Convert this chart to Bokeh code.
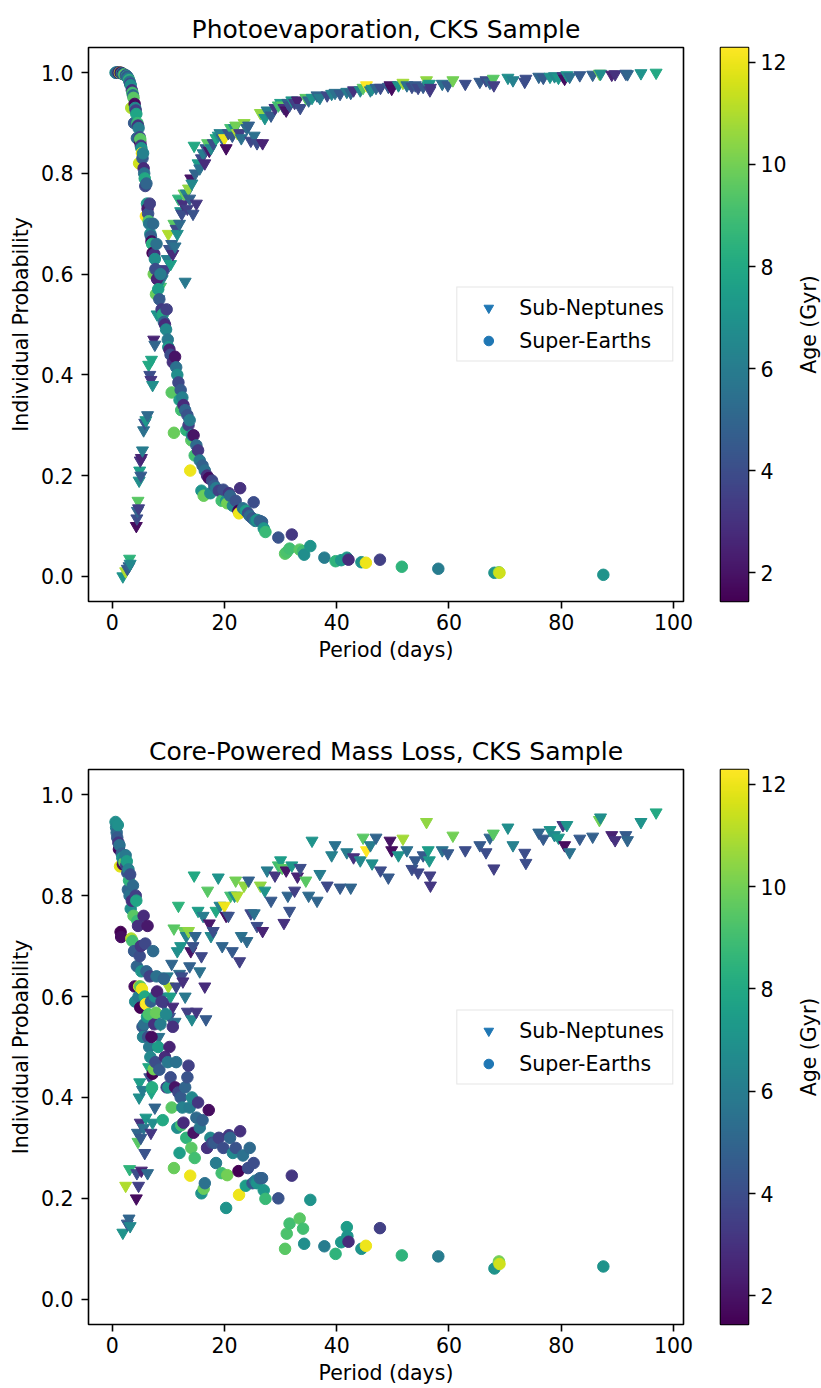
import math
import numpy as np
from bokeh.plotting import figure
from bokeh.models import (ColumnDataSource, LinearColorMapper, Range1d, Legend, LegendItem,
                          FixedTicker, PrintfTickFormatter)
from bokeh.core.properties import value
from bokeh.layouts import column, row
from bokeh.palettes import Viridis256
from bokeh.embed import file_html
from bokeh.resources import INLINE

FONT = "DejaVu Sans"

# ---------------- Super-Earths (period, age, P(photoevap), P(core-powered)) -------------
se_period = ([0.6, 0.7, 0.8, 0.9, 1.0, 1.1, 1.2, 1.3, 1.4, 1.5, 1.6, 1.7, 1.8, 1.9, 2.0, 2.2, 2.4, 2.5, 2.6, 2.7, 2.8, 2.9]
             + [3.0, 3.1, 3.2, 3.3, 3.4, 3.5, 3.6, 3.7, 3.8, 3.9, 4.0, 4.1, 4.2, 4.3, 4.4, 4.5, 4.6, 4.7, 4.8, 4.9, 5.0, 5.0]
             + [5.1, 5.2, 5.3, 5.4, 5.5, 5.6, 5.7, 5.8, 5.9, 6.0, 6.1, 6.2, 6.3, 6.4, 6.5, 6.6, 6.7, 6.8, 6.9, 7.0,
                7.1, 7.2, 7.3, 7.4, 7.5, 7.6, 7.7, 7.8, 7.9, 8.0, 8.2, 8.4, 8.6, 8.8, 9.0, 9.2, 9.4, 9.6, 9.7, 9.9]
             + [10.0, 10.2, 10.4, 10.6, 10.8, 11.0, 11.2, 11.4, 11.6, 11.8, 12.0, 12.2, 12.3, 12.5, 12.7, 13.0, 13.2, 13.4, 13.6, 13.8,
                13.9, 14.1, 14.2, 14.5, 14.7, 15.0, 15.3, 15.6, 15.9, 16.1, 16.3, 16.5, 16.9, 17.2, 17.5, 17.8, 18.2, 18.5, 19.0, 19.5, 19.8]
             + [20.3, 20.5, 20.8, 21.0, 21.5, 22.0, 22.5, 22.6, 22.8, 23.3, 23.8, 24.2, 24.5, 25.0, 25.2, 25.5, 25.8, 26.3, 26.7, 27.0, 27.3, 29.6]
             + [30.8, 31.1, 31.6, 32.0, 33.4, 34.0, 34.2, 35.3, 37.8, 39.8, 40.8, 41.8, 41.9, 42.1, 44.4, 45.2, 47.7, 51.6, 58.1, 68.1, 68.9, 69.0, 87.5])
se_age = ([6.8, 6.0, 5.2, 4.5, 6.9, 3.2, 1.6, 5.5, 11.8, 1.44, 1.8, 4.8, 7.2, 1.7, 6.5, 9.8, 5.8, 3.5, 7.5, 4.2, 5.0, 6.2]
          + [8.5, 5.5, 4.0, 6.8, 11.0, 3.0, 9.0, 5.2, 9.5, 4.5, 1.7, 6.5, 3.5, 7.8, 5.0, 8.8, 3.0, 6.0, 11.5, 4.0, 1.5, 9.5]
          + [3.2, 7.0, 12.0, 4.5, 6.2, 2.8, 5.5, 8.0, 3.8, 12.29, 5.0, 7.2, 2.2, 4.2, 9.2, 5.8, 3.5, 6.5, 4.8, 1.8,
             8.2, 1.44, 5.2, 10.0, 3.0, 6.8, 4.0, 9.8, 5.5, 2.5, 7.5, 4.5, 6.0, 3.3, 8.0, 5.0, 2.8, 6.5, 3.5, 5.8]
          + [7.0, 2.5, 4.0, 9.5, 3.0, 9.8, 2.0, 5.5, 6.8, 3.8, 7.5, 4.5, 9.0, 6.2, 2.8, 5.0, 8.5, 4.2, 3.5, 6.0,
             12.0, 9.5, 6.5, 2.0, 9.0, 5.2, 3.2, 5.8, 7.0, 4.8, 9.8, 5.5, 3.0, 1.8, 6.5, 3.8, 4.5, 6.0, 3.5, 9.0, 4.0]
          + [7.0, 10.0, 3.2, 5.0, 6.5, 4.2, 1.44, 12.0, 3.0, 5.5, 7.5, 4.0, 5.2, 4.5, 4.0, 6.0, 7.0, 5.0, 4.8, 7.2, 8.8, 4.2]
          + [9.5, 9.2, 9.0, 3.2, 9.5, 9.0, 6.8, 7.0, 6.0, 8.5, 7.2, 7.5, 7.0, 2.8, 7.0, 12.0, 3.5, 8.5, 6.0, 7.0, 10.0, 11.5, 7.0])
se_prob_pe = ([1.000] * 10 + [0.999, 0.999, 0.998, 0.998, 0.997, 0.996, 0.995, 0.994, 0.993, 0.992, 0.990, 0.988]
              + [0.985, 0.982, 0.978, 0.975, 0.930, 0.965, 0.960, 0.955, 0.950, 0.900, 0.938, 0.930, 0.925, 0.918, 0.870, 0.900, 0.895, 0.890, 0.820, 0.872, 0.862, 0.868]
              + [0.855, 0.850, 0.840, 0.830, 0.840, 0.810, 0.800, 0.790, 0.775, 0.715, 0.780, 0.740, 0.730, 0.720, 0.705, 0.700, 0.740, 0.680, 0.675, 0.665,
                 0.660, 0.642, 0.700, 0.600, 0.640, 0.630, 0.610, 0.560, 0.660, 0.590, 0.570, 0.550, 0.600, 0.530, 0.520, 0.505, 0.500, 0.490, 0.530, 0.470]
              + [0.455, 0.450, 0.440, 0.365, 0.425, 0.285, 0.436, 0.415, 0.400, 0.385, 0.350, 0.370, 0.330, 0.355, 0.340, 0.330, 0.290, 0.320, 0.300, 0.310,
                 0.210, 0.270, 0.280, 0.280, 0.240, 0.260, 0.250, 0.230, 0.170, 0.220, 0.160, 0.210, 0.200, 0.195, 0.165, 0.190, 0.180, 0.175, 0.170, 0.150, 0.172]
              + [0.150, 0.145, 0.165, 0.160, 0.140, 0.150, 0.130, 0.125, 0.175, 0.135, 0.130, 0.125, 0.120, 0.115, 0.147, 0.110, 0.112, 0.110, 0.108, 0.095, 0.088, 0.077]
              + [0.045, 0.048, 0.055, 0.083, 0.053, 0.050, 0.043, 0.060, 0.037, 0.030, 0.032, 0.037, 0.035, 0.033, 0.028, 0.027, 0.033, 0.019, 0.015, 0.007, 0.008, 0.007, 0.003])
se_prob_cp = ([0.946, 0.935, 0.925, 0.915, 0.940, 0.905, 0.892, 0.900, 0.858, 0.728, 0.718, 0.883, 0.875, 0.862, 0.870, 0.866, 0.880, 0.860, 0.868, 0.845, 0.812, 0.852]
              + [0.830, 0.800, 0.842, 0.774, 0.715, 0.790, 0.710, 0.820, 0.760, 0.690, 0.620, 0.590, 0.800, 0.790, 0.660, 0.750, 0.740, 0.600, 0.620, 0.680, 0.578, 0.620]
              + [0.700, 0.650, 0.615, 0.540, 0.520, 0.760, 0.545, 0.600, 0.705, 0.585, 0.650, 0.560, 0.740, 0.520, 0.565, 0.500, 0.640, 0.480, 0.590, 0.520,
                 0.420, 0.447, 0.690, 0.456, 0.545, 0.600, 0.470, 0.568, 0.640, 0.610, 0.500, 0.455, 0.545, 0.590, 0.355, 0.635, 0.480, 0.565, 0.420, 0.470]
              + [0.420, 0.500, 0.440, 0.380, 0.540, 0.260, 0.420, 0.470, 0.340, 0.410, 0.290, 0.400, 0.345, 0.380, 0.350, 0.420, 0.320, 0.440, 0.463, 0.380,
                 0.245, 0.300, 0.400, 0.330, 0.280, 0.360, 0.390, 0.340, 0.210, 0.355, 0.219, 0.230, 0.300, 0.375, 0.320, 0.310, 0.310, 0.270, 0.320, 0.250, 0.300]
              + [0.181, 0.246, 0.325, 0.320, 0.290, 0.300, 0.254, 0.207, 0.333, 0.285, 0.225, 0.260, 0.300, 0.230, 0.270, 0.235, 0.230, 0.240, 0.240, 0.216, 0.199, 0.200]
              + [0.100, 0.130, 0.150, 0.245, 0.160, 0.140, 0.110, 0.197, 0.105, 0.090, 0.113, 0.143, 0.125, 0.114, 0.100, 0.106, 0.141, 0.087, 0.085, 0.061, 0.075, 0.070, 0.065])

# ---------------- Sub-Neptunes -------------
sn_period = ([1.9, 2.4, 2.7, 3.0, 3.1, 3.2, 4.3, 4.4, 4.5, 4.6, 4.7, 4.8, 4.9, 5.0, 5.1, 5.2, 5.4, 5.6, 5.8, 6.0, 6.3, 6.5, 6.7, 6.9, 7.0, 7.2, 7.4, 7.6]
             + [8.0, 8.3, 8.6, 8.9, 9.2, 9.5, 9.8, 10.0, 10.2, 10.4, 10.6, 10.8, 11.0, 11.2, 11.4, 11.6, 11.8, 12.0, 12.2, 12.4,
                12.6, 12.8, 13.0, 13.2, 13.4, 13.6, 13.8, 14.0, 14.2, 14.4, 14.6, 14.8, 15.0]
             + [15.3, 15.6, 15.9, 16.2, 16.5, 16.7, 17.0, 17.3, 17.6, 18.0, 18.5, 18.9, 19.2, 19.6, 20.0, 20.3, 20.7, 21.1, 21.4, 21.8,
                22.0, 22.3, 22.7, 23.0, 23.5, 24.0, 24.3, 24.7, 25.3, 25.8, 26.4, 26.8, 27.2, 27.6, 28.3, 29.0, 29.6]
             + [30.0, 30.3, 30.6, 31.0, 31.3, 31.6, 32.0, 32.5, 33.0, 33.5, 34.5, 35.0, 35.6, 36.5, 37.0, 38.3, 39.1, 39.7, 40.6, 41.8,
                42.5, 43.0, 44.2, 44.7, 45.3, 46.0, 46.3, 47.0, 47.8, 49.2, 49.5, 49.8]
             + [51.0, 51.8, 52.5, 53.4, 54.0, 54.5, 55.4, 56.0, 56.3, 56.5, 56.6, 56.7, 58.8, 59.8, 60.7, 62.9, 65.5, 66.6, 67.3, 67.9,
                68.0, 70.5, 71.4, 73.5, 73.7, 76.0, 76.8, 78.0, 78.8, 79.5, 80.3, 80.6, 81.0, 81.5, 83.3, 85.6, 86.8, 87.0, 89.0, 89.6,
                91.5, 91.8, 94.2, 96.9])
sn_age = ([7.0, 11.0, 4.5, 5.0, 8.5, 6.5, 1.8, 4.0, 5.0, 9.5, 3.5, 6.8, 7.5, 3.0, 4.5, 2.5, 6.0, 5.5, 4.2, 7.2, 5.2, 8.0, 4.0, 3.2, 7.8, 6.8, 2.5, 5.0]
          + [7.0, 5.5, 9.0, 6.5, 4.5, 3.5, 6.0, 11.0, 4.2, 7.5, 5.0, 2.8, 9.5, 5.5, 3.8, 6.8, 8.5, 5.2, 7.0, 4.0,
             3.0, 9.8, 5.8, 6.2, 3.5, 10.5, 4.8, 2.0, 6.5, 4.2, 8.0, 5.0, 3.2]
          + [7.5, 5.5, 3.8, 6.0, 2.8, 4.5, 9.5, 2.2, 6.5, 4.0, 8.0, 7.0, 6.2, 5.0, 12.0, 1.8, 4.2, 9.0, 4.5, 6.8,
             10.0, 11.0, 3.5, 5.5, 10.5, 5.2, 4.8, 3.8, 5.5, 4.0, 10.5, 2.5, 7.0, 6.0, 4.5, 3.2, 9.0]
          + [7.5, 9.5, 3.0, 2.0, 5.0, 4.2, 7.2, 3.5, 2.5, 4.0, 9.5, 5.2, 7.0, 5.0, 6.0, 3.8, 6.2, 5.5, 4.5, 6.0,
             5.0, 3.0, 6.5, 9.5, 12.29, 6.0, 6.8, 5.0, 4.0, 4.5, 2.0, 1.8]
          + [7.0, 10.8, 5.5, 4.0, 4.5, 3.8, 4.5, 10.5, 7.5, 7.2, 3.5, 3.2, 5.5, 4.5, 10.0, 4.0, 4.5, 4.0, 5.0, 9.5,
             3.5, 6.8, 6.2, 4.0, 4.0, 5.0, 4.5, 7.0, 6.5, 7.2, 3.2, 1.8, 7.0, 5.5, 4.5, 4.8, 10.0, 6.8, 2.5, 3.0,
             4.5, 5.0, 7.0, 8.0])
sn_prob_pe = ([0.000, 0.010, 0.015, 0.020, 0.035, 0.025, 0.100, 0.115, 0.130, 0.150, 0.135, 0.190, 0.210, 0.230, 0.200, 0.235, 0.250, 0.290, 0.305, 0.310,
               0.320, 0.420, 0.400, 0.390, 0.430, 0.380, 0.470, 0.460]
              + [0.520, 0.550, 0.575, 0.590, 0.600, 0.610, 0.630, 0.680, 0.650, 0.620, 0.660, 0.640, 0.700, 0.655, 0.690, 0.680, 0.750, 0.700, 0.725, 0.720,
                 0.740, 0.760, 0.585, 0.760, 0.730, 0.770, 0.750, 0.790, 0.780, 0.720, 0.855, 0.800, 0.740]
              + [0.820, 0.810, 0.830, 0.840, 0.820, 0.850, 0.860, 0.845, 0.850, 0.860, 0.870, 0.875, 0.880, 0.870, 0.870, 0.850, 0.880, 0.890, 0.875, 0.890,
                 0.895, 0.880, 0.880, 0.870, 0.900, 0.890, 0.895, 0.865, 0.875, 0.860, 0.920, 0.860, 0.910, 0.925, 0.915, 0.930, 0.935]
              + [0.940, 0.935, 0.930, 0.925, 0.940, 0.935, 0.945, 0.940, 0.945, 0.930, 0.950, 0.945, 0.950, 0.955, 0.950, 0.955, 0.958, 0.960, 0.958, 0.962,
                 0.960, 0.965, 0.965, 0.970, 0.975, 0.965, 0.968, 0.970, 0.970, 0.972, 0.975, 0.968]
              + [0.975, 0.980, 0.975, 0.972, 0.975, 0.970, 0.972, 0.985, 0.975, 0.978, 0.965, 0.970, 0.978, 0.975, 0.985, 0.978, 0.982, 0.985, 0.980, 0.988,
                 0.975, 0.990, 0.985, 0.982, 0.988, 0.992, 0.990, 0.992, 0.993, 0.990, 0.993, 0.988, 0.995, 0.992, 0.995, 0.996, 0.998, 0.998, 0.996, 0.997,
                 0.998, 0.997, 0.999, 1.000])
sn_prob_cp = ([0.132, 0.225, 0.150, 0.160, 0.258, 0.145, 0.200, 0.250, 0.330, 0.312, 0.225, 0.400, 0.430, 0.350, 0.320, 0.255, 0.415, 0.340, 0.290, 0.360,
               0.250, 0.460, 0.440, 0.330, 0.410, 0.350, 0.470, 0.380]
              + [0.560, 0.520, 0.545, 0.600, 0.585, 0.590, 0.640, 0.620, 0.560, 0.600, 0.665, 0.580, 0.735, 0.550, 0.620, 0.690, 0.780, 0.645, 0.700, 0.640,
                 0.630, 0.730, 0.600, 0.720, 0.570, 0.730, 0.660, 0.690, 0.555, 0.700, 0.840, 0.720, 0.570]
              + [0.770, 0.650, 0.680, 0.760, 0.620, 0.555, 0.810, 0.745, 0.720, 0.730, 0.770, 0.836, 0.780, 0.700, 0.780, 0.760, 0.760, 0.800, 0.690, 0.800,
                 0.830, 0.800, 0.670, 0.720, 0.820, 0.710, 0.830, 0.765, 0.765, 0.740, 0.820, 0.730, 0.810, 0.850, 0.790, 0.840, 0.860]
              + [0.870, 0.855, 0.746, 0.850, 0.800, 0.770, 0.860, 0.810, 0.838, 0.855, 0.830, 0.800, 0.909, 0.790, 0.843, 0.820, 0.880, 0.900, 0.816, 0.886,
                 0.816, 0.876, 0.870, 0.915, 0.890, 0.900, 0.864, 0.915, 0.850, 0.836, 0.909, 0.890]
              + [0.880, 0.913, 0.890, 0.853, 0.870, 0.846, 0.880, 0.946, 0.890, 0.870, 0.840, 0.820, 0.890, 0.884, 0.919, 0.890, 0.900, 0.886, 0.915, 0.923,
                 0.854, 0.935, 0.900, 0.885, 0.865, 0.925, 0.913, 0.930, 0.920, 0.915, 0.940, 0.900, 0.940, 0.886, 0.913, 0.917, 0.950, 0.955, 0.920, 0.910,
                 0.920, 0.910, 0.946, 0.965])

titles = ["Photoevaporation, CKS Sample", "Core-Powered Mass Loss, CKS Sample"]
x_ticks = [0, 20, 40, 60, 80, 100]
y_ticks = [0.0, 0.2, 0.4, 0.6, 0.8, 1.0]
age_ticks = [2, 4, 6, 8, 10, 12]
legend_labels = ["Sub-Neptunes", "Super-Earths"]
cbar_label = "Age (Gyr)"

assert len(se_period) == len(se_age) == len(se_prob_pe) == len(se_prob_cp)
assert len(sn_period) == len(sn_age) == len(sn_prob_pe) == len(sn_prob_cp)

age_lo = min(se_age + sn_age)
age_hi = max(se_age + sn_age)
mapper = LinearColorMapper(palette=Viridis256, low=age_lo, high=age_hi)
cmap = {"field": "age", "transform": mapper}

TICK_FS = "20.5px"


def style_axis(ax):
    ax.axis_line_color = None
    ax.major_tick_out = 7
    ax.major_tick_in = 0
    ax.major_tick_line_width = 1.6
    ax.major_tick_line_color = "black"
    ax.minor_tick_line_color = None
    ax.major_label_text_font = FONT
    ax.major_label_text_font_size = TICK_FS
    ax.major_label_text_color = "black"
    ax.axis_label_text_font = FONT
    ax.axis_label_text_font_size = TICK_FS
    ax.axis_label_text_font_style = "normal"
    ax.axis_label_text_color = "black"


def make_panel(title, sn_prob, se_prob, frame_h, border_bottom):
    p = figure(frame_width=595, frame_height=frame_h,
               min_border_left=88, min_border_right=17, min_border_top=47, min_border_bottom=border_bottom,
               x_range=Range1d(-4.22, 101.78), y_range=Range1d(-0.05, 1.05),
               output_backend="svg", toolbar_location=None, title=title)
    p.title.text_font = FONT
    p.title.text_font_size = "25px"
    p.title.text_font_style = "normal"
    p.title.text_color = "black"
    p.title.align = "center"
    p.title.standoff = 8
    p.xgrid.visible = False
    p.ygrid.visible = False
    p.outline_line_color = "black"
    p.outline_line_width = 1.6
    p.outline_line_alpha = 1.0
    p.xaxis.ticker = FixedTicker(ticks=x_ticks)
    p.yaxis.ticker = FixedTicker(ticks=y_ticks)
    p.xaxis.formatter = PrintfTickFormatter(format="%d")
    p.yaxis.formatter = PrintfTickFormatter(format="%.1f")
    p.xaxis.axis_label = "Period (days)"
    p.yaxis.axis_label = "Individual Probability"
    style_axis(p.xaxis[0])
    style_axis(p.yaxis[0])
    p.xaxis.major_label_standoff = 5
    p.yaxis.major_label_standoff = 8

    sn_src = ColumnDataSource(dict(x=sn_period, y=sn_prob, age=sn_age))
    se_src = ColumnDataSource(dict(x=se_period, y=se_prob, age=se_age))
    p.scatter("x", "y", source=sn_src, marker="inverted_triangle", size=12,
              fill_color=cmap, line_color=cmap, line_width=1)
    p.scatter("x", "y", source=se_src, marker="circle", size=11.5,
              fill_color=cmap, line_color=cmap, line_width=1)

    # legend-only renderers (single NaN point, never visible in the plot area)
    nan_src = ColumnDataSource(dict(x=[float("nan")], y=[float("nan")]))
    leg_sn = p.scatter("x", "y", source=nan_src, marker="inverted_triangle", size=11,
                       fill_color="#1f77b4", line_color="#1f77b4")
    leg_se = p.scatter("x", "y", source=nan_src, marker="circle", size=11,
                       fill_color="#1f77b4", line_color="#1f77b4")
    legend = Legend(items=[LegendItem(label=legend_labels[0], renderers=[leg_sn]),
                           LegendItem(label=legend_labels[1], renderers=[leg_se])],
                    location="center_right")
    legend.label_text_font = FONT
    legend.label_text_font_size = TICK_FS
    legend.label_text_color = "black"
    legend.border_line_color = "#cccccc"
    legend.border_line_width = 1.5
    legend.background_fill_alpha = 0.8
    legend.padding = 8
    legend.spacing = 9
    legend.glyph_width = 46
    legend.glyph_height = 24
    legend.label_height = 22
    legend.label_standoff = 8
    legend.margin = 10
    p.add_layout(legend)
    return p


def make_cbar(frame_h, border_bottom):
    c = figure(frame_width=28, frame_height=frame_h,
               min_border_left=20, min_border_right=41, min_border_top=47, min_border_bottom=border_bottom,
               x_range=Range1d(0, 1), y_range=Range1d(age_lo, age_hi),
               x_axis_location=None, y_axis_location="right",
               output_backend="svg", toolbar_location=None)
    c.xgrid.visible = False
    c.ygrid.visible = False
    grad = np.linspace(age_lo, age_hi, 256).reshape(256, 1)
    c.image(image=[grad], x=0, y=age_lo, dw=1, dh=age_hi - age_lo, color_mapper=mapper)
    c.outline_line_color = "black"
    c.outline_line_width = 1.6
    c.outline_line_alpha = 1.0
    ax = c.yaxis[0]
    ax.ticker = FixedTicker(ticks=age_ticks)
    ax.formatter = PrintfTickFormatter(format="%d")
    style_axis(ax)
    ax.major_label_standoff = 5
    return c


def make_cbar_label(frame_h, border_bottom):
    # narrow strip holding the rotated colour-bar title (reads bottom-to-top)
    t = figure(frame_width=33, frame_height=frame_h,
               min_border_left=0, min_border_right=0, min_border_top=47, min_border_bottom=border_bottom,
               x_range=Range1d(0, 1), y_range=Range1d(0, 1),
               x_axis_location=None, y_axis_location=None,
               output_backend="svg", toolbar_location=None)
    t.xgrid.visible = False
    t.ygrid.visible = False
    t.outline_line_color = None
    t.text(x=[0.6], y=[0.5], text=[cbar_label], angle=math.pi / 2,
           text_align="center", text_baseline="middle",
           text_font=value(FONT), text_font_size=TICK_FS, text_color="black")
    return t


p1 = make_panel(titles[0], sn_prob_pe, se_prob_pe, 554, 121)
c1 = make_cbar(554, 121)
t1 = make_cbar_label(554, 121)
p2 = make_panel(titles[1], sn_prob_cp, se_prob_cp, 555, 64)
c2 = make_cbar(555, 64)
t2 = make_cbar_label(555, 64)

layout = column(row(p1, c1, t1), row(p2, c2, t2))
open("out.html", "w").write(file_html(layout, INLINE))
